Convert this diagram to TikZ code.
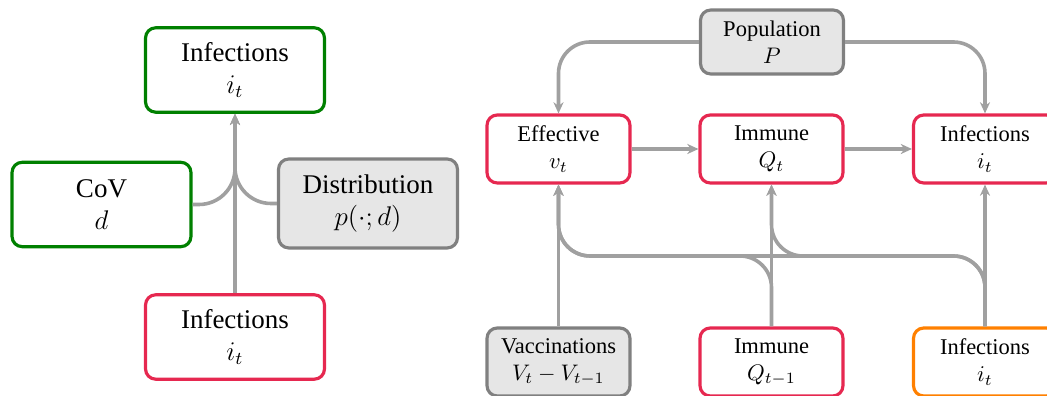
\documentclass[tikz,border=0pt]{standalone}
\usepackage{fontspec}
\setmainfont{Liberation Serif}
\usetikzlibrary{arrows.meta}
\definecolor{cgreen}{RGB}{0,128,0}
\definecolor{cred}{RGB}{230,40,80}
\definecolor{corange}{RGB}{255,128,0}
\definecolor{cgrayb}{RGB}{128,128,128}
\definecolor{cgrayf}{RGB}{230,230,230}
\definecolor{cline}{RGB}{160,160,160}
\begin{document}
\begin{tikzpicture}[x=0.4444pt,y=-0.4444pt,
  box/.style={draw, rounded corners=4.5pt, line width=1.4pt, align=center, inner sep=2pt, fill=white},
  bigbox/.style={box, minimum width=79.5pt, minimum height=37.5pt, font=\large},
  smallbox/.style={box, minimum width=63.5pt, minimum height=30.2pt},
  gbox/.style={draw=cgreen},
  rbox/.style={draw=cred},
  obox/.style={draw=corange},
  dbox/.style={draw=cgrayb, fill=cgrayf},
  arr/.style={draw=cline, line width=1.6pt, -{Stealth[length=5pt,width=4.5pt]}},
]
\useasboundingbox (0,0) rectangle (1047,396);

% left panel
\node[bigbox,gbox] (itop) at (235,70) {Infections\\ $i_t$};
\node[bigbox,gbox] (cov) at (101.5,204.5) {CoV\\ $d$};
\node[bigbox,dbox, minimum height=39.5pt] (dist) at (368,203.5) {Distribution\\ $p(\cdot;d)$};
\node[bigbox,rbox] (ibot) at (235,337) {Infections\\ $i_t$};

\draw[arr, rounded corners=16pt] (cov.east) -| (itop.south);
\draw[arr, rounded corners=16pt] (dist.west) -| (itop.south);
\draw[arr] (ibot.north) -- (itop.south);

% right panel
\node[smallbox,dbox, minimum height=28.4pt] (pop) at (772,42) {Population\\ $P$};
\node[smallbox,rbox] (eff) at (558.5,149) {Effective\\ $v_t$};
\node[smallbox,rbox] (imm) at (771.5,149) {Immune\\ $Q_t$};
\node[smallbox,rbox] (inf) at (985,149) {Infections\\ $i_t$};
\node[smallbox,dbox] (vac) at (558.5,362) {Vaccinations\\ $V_t-V_{t-1}$};
\node[smallbox,rbox] (qprev) at (771.5,362) {Immune\\ $Q_{t-1}$};
\node[smallbox,obox] (iprev) at (985,362) {Infections\\ $i_t$};

\coordinate (bus) at (0,256);

\draw[arr, rounded corners=14pt] (qprev.north) -- (qprev.north |- bus) -- (eff.south |- bus) -- (eff.south);
\draw[arr, rounded corners=14pt] (iprev.north) -- (iprev.north |- bus) -- (eff.south |- bus) -- (eff.south);
\draw[arr, rounded corners=14pt] (iprev.north) -- (iprev.north |- bus) -- (imm.south |- bus) -- (imm.south);
\draw[arr] (vac) -- (eff);
\draw[arr] (qprev) -- (imm);
\draw[arr] (iprev) -- (inf);
\draw[arr] (eff) -- (imm);
\draw[arr] (imm) -- (inf);
\draw[arr, rounded corners=14pt] (pop.west) -| (eff.north);
\draw[arr, rounded corners=14pt] (pop.east) -| (inf.north);
\end{tikzpicture}
\end{document}
